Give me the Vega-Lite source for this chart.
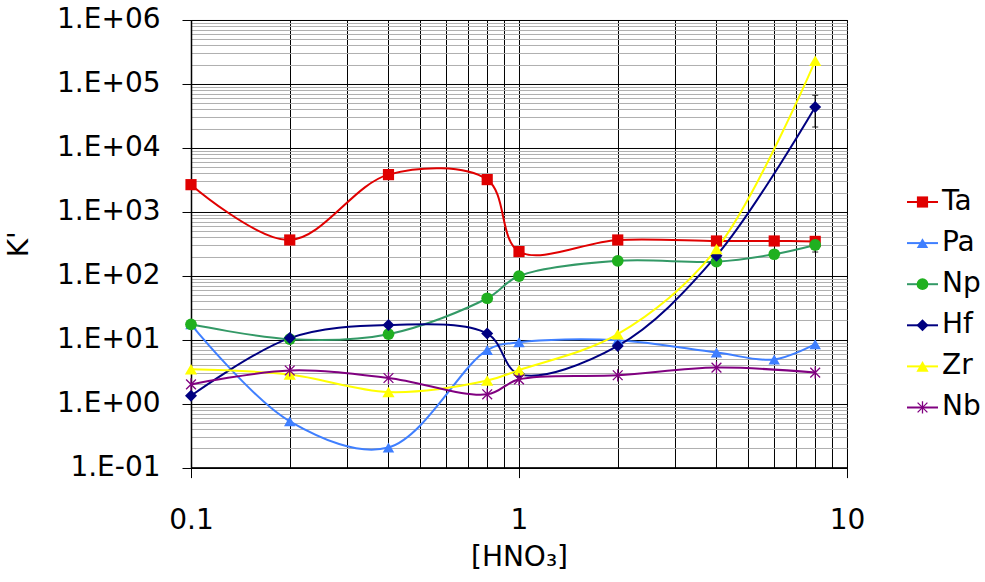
{
  "$schema": "https://vega.github.io/schema/vega-lite/v6.json",
  "padding": {"left": 5, "top": 5, "right": 0, "bottom": 5},
  "background": "white",
  "config": {
    "font": "DejaVu Sans",
    "view": {"stroke": "#000000", "strokeWidth": 1}
  },
  "bounds": "flush",
  "spacing": 60,
  "datasets": {
    "kd": [
      {"el": "Ta", "hno3": 0.1, "k": 2660},
      {"el": "Ta", "hno3": 0.2, "k": 363},
      {"el": "Ta", "hno3": 0.4, "k": 3820},
      {"el": "Ta", "hno3": 0.8, "k": 3190},
      {"el": "Ta", "hno3": 1, "k": 239},
      {"el": "Ta", "hno3": 2, "k": 363},
      {"el": "Ta", "hno3": 4, "k": 350},
      {"el": "Ta", "hno3": 6, "k": 350},
      {"el": "Ta", "hno3": 8, "k": 345},
      {"el": "Pa", "hno3": 0.1, "k": 17.4},
      {"el": "Pa", "hno3": 0.2, "k": 0.53},
      {"el": "Pa", "hno3": 0.4, "k": 0.206},
      {"el": "Pa", "hno3": 0.8, "k": 6.9},
      {"el": "Pa", "hno3": 1, "k": 9.1},
      {"el": "Pa", "hno3": 2, "k": 9.8},
      {"el": "Pa", "hno3": 4, "k": 6.3},
      {"el": "Pa", "hno3": 6, "k": 4.9},
      {"el": "Pa", "hno3": 8, "k": 8.5},
      {"el": "Np", "hno3": 0.1, "k": 17.4},
      {"el": "Np", "hno3": 0.2, "k": 10.2},
      {"el": "Np", "hno3": 0.4, "k": 12.2},
      {"el": "Np", "hno3": 0.8, "k": 44.5},
      {"el": "Np", "hno3": 1, "k": 99},
      {"el": "Np", "hno3": 2, "k": 171},
      {"el": "Np", "hno3": 4, "k": 166},
      {"el": "Np", "hno3": 6, "k": 217},
      {"el": "Np", "hno3": 8, "k": 303},
      {"el": "Hf", "hno3": 0.1, "k": 1.33},
      {"el": "Hf", "hno3": 0.2, "k": 10.6},
      {"el": "Hf", "hno3": 0.4, "k": 17},
      {"el": "Hf", "hno3": 0.8, "k": 12.5},
      {"el": "Hf", "hno3": 1, "k": 2.9},
      {"el": "Hf", "hno3": 2, "k": 8.0},
      {"el": "Hf", "hno3": 4, "k": 206},
      {"el": "Hf", "hno3": 8, "k": 43600},
      {"el": "Zr", "hno3": 0.1, "k": 3.45},
      {"el": "Zr", "hno3": 0.2, "k": 2.85},
      {"el": "Zr", "hno3": 0.4, "k": 1.52},
      {"el": "Zr", "hno3": 0.8, "k": 2.3},
      {"el": "Zr", "hno3": 1, "k": 3.35},
      {"el": "Zr", "hno3": 2, "k": 12.2},
      {"el": "Zr", "hno3": 4, "k": 262},
      {"el": "Zr", "hno3": 8, "k": 230000},
      {"el": "Nb", "hno3": 0.1, "k": 2.0},
      {"el": "Nb", "hno3": 0.2, "k": 3.3},
      {"el": "Nb", "hno3": 0.4, "k": 2.52},
      {"el": "Nb", "hno3": 0.8, "k": 1.4},
      {"el": "Nb", "hno3": 1, "k": 2.4},
      {"el": "Nb", "hno3": 2, "k": 2.78},
      {"el": "Nb", "hno3": 4, "k": 3.66},
      {"el": "Nb", "hno3": 8, "k": 3.06}
    ],
    "err": [
      {"el": "Hf", "hno3": 8, "lo": 21200, "hi": 66400},
      {"el": "Np", "hno3": 8, "lo": 235, "hi": 390}
    ],
    "series": [
      {"el": "Ta"}, {"el": "Pa"}, {"el": "Np"}, {"el": "Hf"}, {"el": "Zr"}, {"el": "Nb"}
    ]
  },
  "resolve": {"scale": {"x": "independent", "y": "independent"}},
  "hconcat": [
    {
      "width": 656,
      "height": 447.6,
      "data": {"name": "kd"},
      "layer": [
        {
          "mark": {"type": "line", "interpolate": "catmull-rom", "strokeWidth": 2},
          "encoding": {
            "x": {
              "field": "hno3", "type": "quantitative",
              "scale": {"type": "log", "domain": [0.1, 10], "nice": false},
              "axis": {
                "values": [0.1, 0.2, 0.3, 0.4, 0.5, 0.6, 0.7, 0.8, 0.9, 1, 2, 3, 4, 5, 6, 7, 8, 9, 10],
                "labelExpr": "abs(log(datum.value)/LN10 - round(log(datum.value)/LN10)) < 0.001 ? format(datum.value, '~g') : ''",
                "labelOverlap": false,
                "labelFlush": false,
                "labelFont": "DejaVu Sans",
                "labelFontSize": 28,
                "labelColor": "#000000",
                "labelPadding": 29,
                "grid": true,
                "gridColor": "#000000",
                "gridWidth": 1,
                "gridOpacity": 1,
                "tickSize": 10,
                "tickWidth": 1,
                "tickColor": {"condition": {"test": "abs(log(datum.value)/LN10 - round(log(datum.value)/LN10)) < 0.001", "value": "#000000"}, "value": "transparent"},
                "domainColor": "#000000",
                "domainWidth": 1.5,
                "title": "[HNO₃]",
                "titleFont": "DejaVu Sans",
                "titleFontSize": 28,
                "titleFontWeight": "normal",
                "titleColor": "#000000",
                "titlePadding": 9
              }
            },
            "y": {
              "field": "k", "type": "quantitative",
              "scale": {"type": "log", "domain": [0.1, 1000000], "nice": false},
              "axis": {
                "values": [0.1, 0.2, 0.3, 0.4, 0.5, 0.6, 0.7, 0.8, 0.9,
                  1, 2, 3, 4, 5, 6, 7, 8, 9,
                  10, 20, 30, 40, 50, 60, 70, 80, 90,
                  100, 200, 300, 400, 500, 600, 700, 800, 900,
                  1000, 2000, 3000, 4000, 5000, 6000, 7000, 8000, 9000,
                  10000, 20000, 30000, 40000, 50000, 60000, 70000, 80000, 90000,
                  100000, 200000, 300000, 400000, 500000, 600000, 700000, 800000, 900000,
                  1000000],
                "labelExpr": "abs(log(datum.value)/LN10 - round(log(datum.value)/LN10)) < 0.001 ? '1.E' + (round(log(datum.value)/LN10) < 0 ? '-' : '+') + (abs(round(log(datum.value)/LN10)) < 10 ? '0' : '') + abs(round(log(datum.value)/LN10)) : ''",
                "labelOverlap": false,
                "labelFlush": false,
                "labelFont": "DejaVu Sans",
                "labelFontSize": 28,
                "labelColor": "#000000",
                "labelPadding": 22,
                "grid": true,
                "gridColor": {"condition": {"test": "abs(log(datum.value)/LN10 - round(log(datum.value)/LN10)) < 0.001", "value": "#000000"}, "value": "#b0b0b0"},
                "gridWidth": 1,
                "gridOpacity": 1,
                "tickSize": 9,
                "tickWidth": 1,
                "tickColor": {"condition": {"test": "abs(log(datum.value)/LN10 - round(log(datum.value)/LN10)) < 0.001", "value": "#000000"}, "value": "transparent"},
                "domainColor": "#000000",
                "domainWidth": 1.5,
                "title": "K'",
                "titleFont": "DejaVu Sans",
                "titleFontSize": 28,
                "titleFontWeight": "normal",
                "titleColor": "#000000",
                "titlePadding": 23
              }
            },
            "stroke": {
              "field": "el", "type": "nominal",
              "scale": {"domain": ["Ta", "Pa", "Np", "Hf", "Zr", "Nb"], "range": ["#e00000", "#3f7fff", "#339966", "#000080", "#ffff00", "#800080"]},
              "legend": null
            },
            "order": {"field": "hno3", "type": "quantitative"}
          }
        },
        {
          "data": {"name": "err"},
          "mark": {"type": "rule", "color": "#000000", "strokeWidth": 1.2},
          "encoding": {
            "x": {"field": "hno3", "type": "quantitative"},
            "y": {"field": "lo", "type": "quantitative"},
            "y2": {"field": "hi"}
          }
        },
        {
          "data": {"name": "err"},
          "mark": {"type": "tick", "orient": "horizontal", "color": "#000000", "size": 6, "thickness": 1.2},
          "encoding": {
            "x": {"field": "hno3", "type": "quantitative"},
            "y": {"field": "lo", "type": "quantitative"}
          }
        },
        {
          "data": {"name": "err"},
          "mark": {"type": "tick", "orient": "horizontal", "color": "#000000", "size": 6, "thickness": 1.2},
          "encoding": {
            "x": {"field": "hno3", "type": "quantitative"},
            "y": {"field": "hi", "type": "quantitative"}
          }
        },
        {
          "transform": [{"filter": "datum.el != 'Nb'"}],
          "mark": {"type": "point", "filled": true, "opacity": 1, "strokeWidth": 0},
          "encoding": {
            "x": {"field": "hno3", "type": "quantitative"},
            "y": {"field": "k", "type": "quantitative"},
            "fill": {
              "field": "el", "type": "nominal",
              "scale": {"domain": ["Ta", "Pa", "Np", "Hf", "Zr"], "range": ["#e00000", "#3f7fff", "#20b020", "#000080", "#ffff00"]},
              "legend": null
            },
            "shape": {
              "field": "el", "type": "nominal",
              "scale": {"domain": ["Ta", "Pa", "Np", "Hf", "Zr"], "range": ["square", "triangle-up", "circle", "diamond", "triangle-up"]},
              "legend": null
            },
            "size": {
              "field": "el", "type": "nominal",
              "scale": {"domain": ["Ta", "Pa", "Np", "Hf", "Zr"], "range": [125, 150, 130, 110, 150]},
              "legend": null
            }
          }
        },
        {
          "transform": [{"filter": "datum.el == 'Nb'"}],
          "mark": {"type": "point", "filled": false, "opacity": 1, "strokeWidth": 1.3, "size": 150, "color": "#800080",
            "shape": "M0,-1L0,1M-0.8,-0.8L0.8,0.8M-0.8,0.8L0.8,-0.8"},
          "encoding": {
            "x": {"field": "hno3", "type": "quantitative"},
            "y": {"field": "k", "type": "quantitative"}
          }
        }
      ]
    },
    {
      "width": 77,
      "height": 447.6,
      "view": {"stroke": null},
      "data": {"name": "series"},
      "encoding": {
        "y": {
          "field": "el", "type": "nominal",
          "scale": {"type": "point", "domain": ["Ta", "Pa", "Np", "Hf", "Zr", "Nb"], "range": [182, 387.5], "padding": 0},
          "axis": null
        }
      },
      "layer": [
        {
          "mark": {"type": "rule", "strokeWidth": 2},
          "encoding": {
            "x": {"datum": 0, "type": "quantitative", "scale": {"domain": [0, 77], "nice": false, "zero": false}, "axis": null},
            "x2": {"datum": 31},
            "stroke": {
              "field": "el", "type": "nominal",
              "scale": {"domain": ["Ta", "Pa", "Np", "Hf", "Zr", "Nb"], "range": ["#e00000", "#3f7fff", "#339966", "#000080", "#ffff00", "#800080"]},
              "legend": null
            }
          }
        },
        {
          "transform": [{"filter": "datum.el != 'Nb'"}],
          "mark": {"type": "point", "filled": true, "opacity": 1, "strokeWidth": 0},
          "encoding": {
            "x": {"datum": 15.5, "type": "quantitative"},
            "fill": {
              "field": "el", "type": "nominal",
              "scale": {"domain": ["Ta", "Pa", "Np", "Hf", "Zr"], "range": ["#e00000", "#3f7fff", "#20b020", "#000080", "#ffff00"]},
              "legend": null
            },
            "shape": {
              "field": "el", "type": "nominal",
              "scale": {"domain": ["Ta", "Pa", "Np", "Hf", "Zr"], "range": ["square", "triangle-up", "circle", "diamond", "triangle-up"]},
              "legend": null
            },
            "size": {
              "field": "el", "type": "nominal",
              "scale": {"domain": ["Ta", "Pa", "Np", "Hf", "Zr"], "range": [125, 150, 130, 110, 150]},
              "legend": null
            }
          }
        },
        {
          "transform": [{"filter": "datum.el == 'Nb'"}],
          "mark": {"type": "point", "filled": false, "opacity": 1, "strokeWidth": 1.3, "size": 150, "color": "#800080",
            "shape": "M0,-1L0,1M-0.8,-0.8L0.8,0.8M-0.8,0.8L0.8,-0.8"},
          "encoding": {
            "x": {"datum": 15.5, "type": "quantitative"}
          }
        },
        {
          "mark": {"type": "text", "align": "left", "baseline": "middle", "font": "DejaVu Sans", "fontSize": 28, "color": "#000000", "dx": 4},
          "encoding": {
            "x": {"datum": 31, "type": "quantitative"},
            "text": {"field": "el"}
          }
        }
      ]
    }
  ]
}
